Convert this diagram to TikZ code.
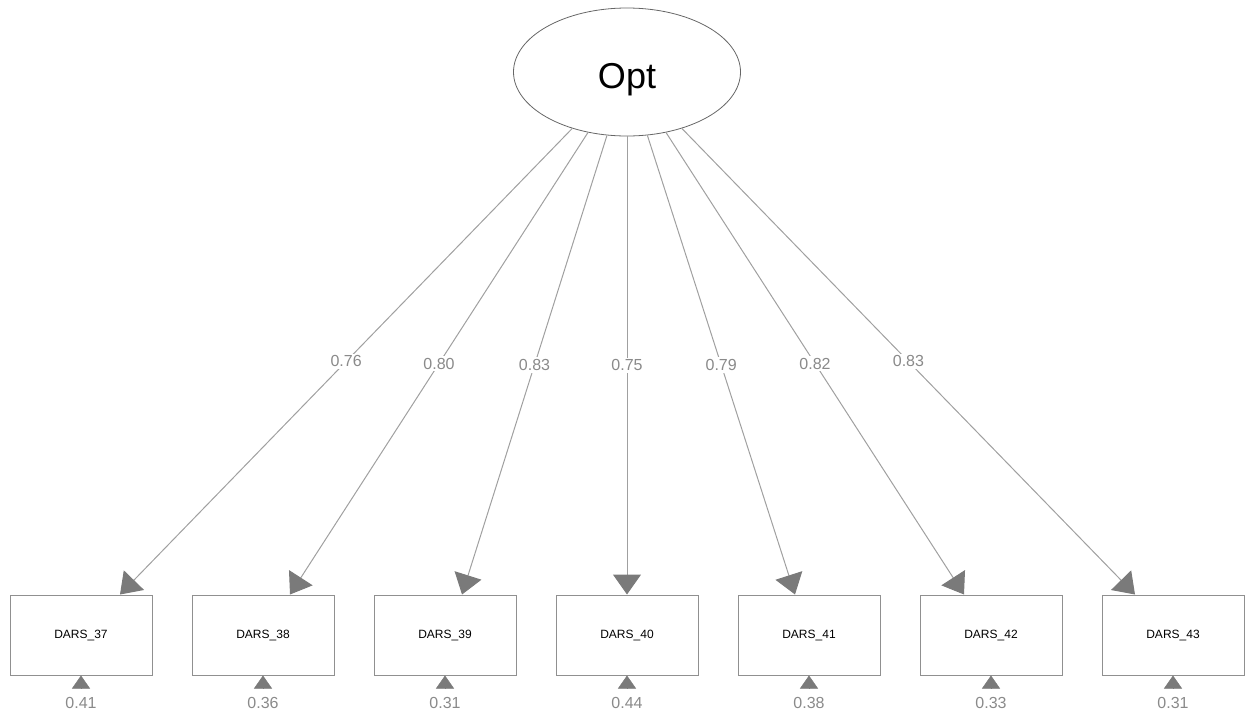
\documentclass[tikz,border=0pt]{standalone}
\usepackage{fontspec}
\setmainfont{Liberation Sans}
\usetikzlibrary{arrows.meta,calc,shapes.geometric}
\definecolor{linegray}{HTML}{A0A0A0}
\definecolor{headgray}{HTML}{7A7A7A}
\definecolor{boxgray}{HTML}{909090}
\definecolor{txtgray}{HTML}{8A8A8A}
\begin{document}
\begin{tikzpicture}[x=1pt,y=-1pt,
  latent/.style={draw=black!60, line width=0.8pt, ellipse, minimum width=227pt, minimum height=128pt, inner sep=0pt, text height=40pt, text depth=7pt, font=\fontsize{36}{36}\selectfont},
  manifest/.style={draw=boxgray, line width=1pt, rectangle, minimum width=142pt, minimum height=80pt, inner sep=0pt, font=\fontsize{12}{12}\selectfont},
  loading/.style={draw=linegray, line width=1pt, -{Triangle[length=20pt,width=28pt,fill=headgray,color=headgray]}},
  lbl/.style={fill=white, text=txtgray, inner sep=2pt, font=\fontsize{16}{16}\selectfont},
  resid/.style={draw=headgray, line width=0.5pt, -{Triangle[length=13pt,width=18pt,fill=headgray,color=headgray]}},
  rlbl/.style={text=txtgray, inner sep=0pt, font=\fontsize{16}{16}\selectfont}
]
\useasboundingbox (0,0) rectangle (1245,713);
\node[latent] (opt) at (627,72) {Opt};
\foreach \i/\x/\off/\l/\r in {37/81/39/0.76/0.41, 38/263/27/0.80/0.36, 39/445/17/0.83/0.31, 40/627/0/0.75/0.44, 41/809/-14/0.79/0.38, 42/991/-27/0.82/0.33, 43/1173/-38/0.83/0.31}{
  \node[manifest] (b\i) at (\x,635) {DARS\_\i};
  \coordinate (t\i) at ($(b\i.north)+(\off,0)$);
  \draw[loading] (opt) -- node[lbl, pos=0.5] {\l} (t\i);
  \coordinate (r\i) at ($(b\i.south)+(0,13)$);
  \draw[resid] (r\i) -- (b\i.south);
  \node[rlbl] (rl\i) at ($(b\i.south)+(0,27)$) {\r};
}
\end{tikzpicture}
\end{document}
